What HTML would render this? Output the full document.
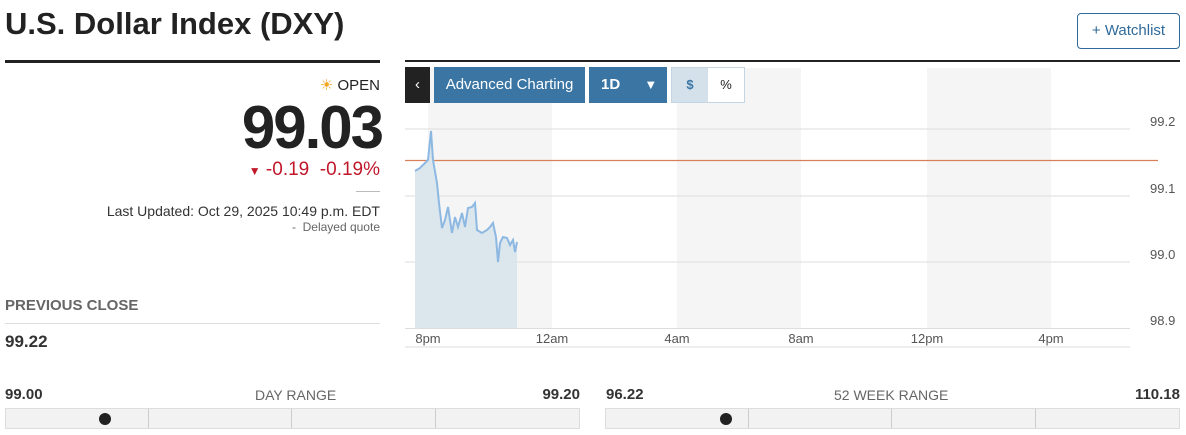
<!DOCTYPE html>
<html><head><meta charset="utf-8"><style>
*{margin:0;padding:0;box-sizing:border-box}
body{width:1186px;height:435px;background:#fff;font-family:"Liberation Sans",sans-serif;color:#222;position:relative;overflow:hidden}
.a{position:absolute;white-space:nowrap}
</style></head><body>
<div class="a" style="left:5px;top:6px;font-size:31px;font-weight:bold;color:#222">U.S. Dollar Index (DXY)</div>
<div class="a" style="left:1077px;top:13px;width:103px;height:36px;border:1px solid #2f6a9a;border-radius:4px;color:#2f6a9a;font-size:15px;line-height:34px;text-align:center">+ Watchlist</div>
<div class="a" style="left:5px;top:60px;width:375px;height:3px;background:#222"></div>
<div class="a" style="left:405px;top:60px;width:775px;height:2px;background:#222"></div>
<div class="a" style="right:806px;top:76px;font-size:15px;color:#222"><span style="color:#f5a623">☀</span> OPEN</div>
<div class="a" style="right:804px;top:93px;font-size:60px;font-weight:bold;letter-spacing:-2px;color:#222">99.03</div>
<div class="a" style="right:806px;top:159px;font-size:19px;color:#c0182a"><span style="font-size:12px">▼</span> -0.19&nbsp; -0.19%</div>
<div class="a" style="left:356px;top:191px;width:24px;height:1px;background:#bbb"></div>
<div class="a" style="right:806px;top:203px;font-size:14px;color:#333">Last Updated: Oct 29, 2025 10:49 p.m. EDT</div>
<div class="a" style="right:806px;top:220px;font-size:12px;color:#666">-&nbsp; Delayed quote</div>
<div class="a" style="left:5px;top:297px;font-size:15px;font-weight:bold;color:#666">PREVIOUS CLOSE</div>
<div class="a" style="left:5px;top:323px;width:375px;height:1px;background:#ddd"></div>
<div class="a" style="left:5px;top:332px;font-size:17px;font-weight:bold;color:#333">99.22</div>

<svg class="a" style="left:0;top:0" width="1186" height="435">
<rect x="428" y="68" width="124" height="260" fill="#f5f5f5"/>
<rect x="677" y="68" width="124" height="260" fill="#f5f5f5"/>
<rect x="927" y="68" width="124" height="260" fill="#f5f5f5"/>
<g stroke="#ddd" stroke-width="1">
<line x1="405" y1="129" x2="1130" y2="129"/><line x1="405" y1="196" x2="1130" y2="196"/>
<line x1="405" y1="262" x2="1130" y2="262"/><line x1="405" y1="328.5" x2="1130" y2="328.5"/>
<line x1="405" y1="347" x2="1130" y2="347"/>
</g>
<line x1="405" y1="160.5" x2="1158" y2="160.5" stroke="#d9805a" stroke-width="1.2"/>
<polygon fill="#dce6ed" points="415,328 415,171 420,168 425,163 428,160 431,131 433,160 437,183 439,203 442,228 445,220 448,207 452,233 455,217 458,227 462,213 465,227 468,208 472,207 475,203 477,230 482,233 487,230 490,227 493,223 496,237 498,262 500,243 503,237 507,238 510,245 513,240 515,252 517,242 517,328"/>
<polyline fill="none" stroke="#8db8e2" stroke-width="2" points="415,171 420,168 425,163 428,160 431,131 433,160 437,183 439,203 442,228 445,220 448,207 452,233 455,217 458,227 462,213 465,227 468,208 472,207 475,203 477,230 482,233 487,230 490,227 493,223 496,237 498,262 500,243 503,237 507,238 510,245 513,240 515,252 517,242"/>
<g font-size="13" fill="#555" font-family="Liberation Sans,sans-serif">
<text x="1150" y="126">99.2</text><text x="1150" y="193">99.1</text><text x="1150" y="259">99.0</text><text x="1150" y="325">98.9</text>
<text x="428" y="343" text-anchor="middle">8pm</text><text x="552" y="343" text-anchor="middle">12am</text>
<text x="677" y="343" text-anchor="middle">4am</text><text x="801" y="343" text-anchor="middle">8am</text>
<text x="927" y="343" text-anchor="middle">12pm</text><text x="1051" y="343" text-anchor="middle">4pm</text>
</g>
</svg>
<div class="a" style="left:405px;top:67px;width:25px;height:36px;background:#222;color:#fff;font-size:15px;line-height:36px;text-align:center">‹</div>
<div class="a" style="left:434px;top:67px;width:151px;height:36px;background:#3a75a4;color:#fff;font-size:15px;line-height:36px;text-align:center">Advanced Charting</div>
<div class="a" style="left:589px;top:67px;width:78px;height:36px;background:#3a75a4;color:#fff;font-size:15px;font-weight:bold;line-height:36px;padding-left:12px">1D <span style="margin-left:20px;font-size:13px">▼</span></div>
<div class="a" style="left:671px;top:67px;width:74px;height:36px;border:1px solid #c5d5e3;background:#fff"></div>
<div class="a" style="left:672px;top:68px;width:36px;height:34px;background:#d4e0ea;color:#3a75a4;font-size:13px;font-weight:bold;line-height:34px;text-align:center">$</div>
<div class="a" style="left:708px;top:68px;width:36px;height:34px;color:#222;font-size:13px;line-height:34px;text-align:center">%</div>

<div class="a" style="left:5px;top:386px;font-size:15px;font-weight:bold;color:#333">99.00</div>
<div class="a" style="left:255px;top:387px;font-size:14px;color:#666">DAY RANGE</div>
<div class="a" style="right:606px;top:386px;font-size:15px;font-weight:bold;color:#333">99.20</div>
<div class="a" style="left:5px;top:408px;width:575px;height:21px;background:#f2f2f2;border:1px solid #ddd"></div>
<div class="a" style="left:148px;top:409px;width:1px;height:19px;background:#ccc"></div>
<div class="a" style="left:291px;top:409px;width:1px;height:19px;background:#ccc"></div>
<div class="a" style="left:435px;top:409px;width:1px;height:19px;background:#ccc"></div>
<div class="a" style="left:99px;top:413px;width:12px;height:12px;border-radius:50%;background:#222"></div>

<div class="a" style="left:606px;top:386px;font-size:15px;font-weight:bold;color:#333">96.22</div>
<div class="a" style="left:834px;top:387px;font-size:14px;color:#666">52 WEEK RANGE</div>
<div class="a" style="right:6px;top:386px;font-size:15px;font-weight:bold;color:#333">110.18</div>
<div class="a" style="left:605px;top:408px;width:575px;height:21px;background:#f2f2f2;border:1px solid #ddd"></div>
<div class="a" style="left:748px;top:409px;width:1px;height:19px;background:#ccc"></div>
<div class="a" style="left:891px;top:409px;width:1px;height:19px;background:#ccc"></div>
<div class="a" style="left:1035px;top:409px;width:1px;height:19px;background:#ccc"></div>
<div class="a" style="left:720px;top:413px;width:12px;height:12px;border-radius:50%;background:#222"></div>
</body></html>
